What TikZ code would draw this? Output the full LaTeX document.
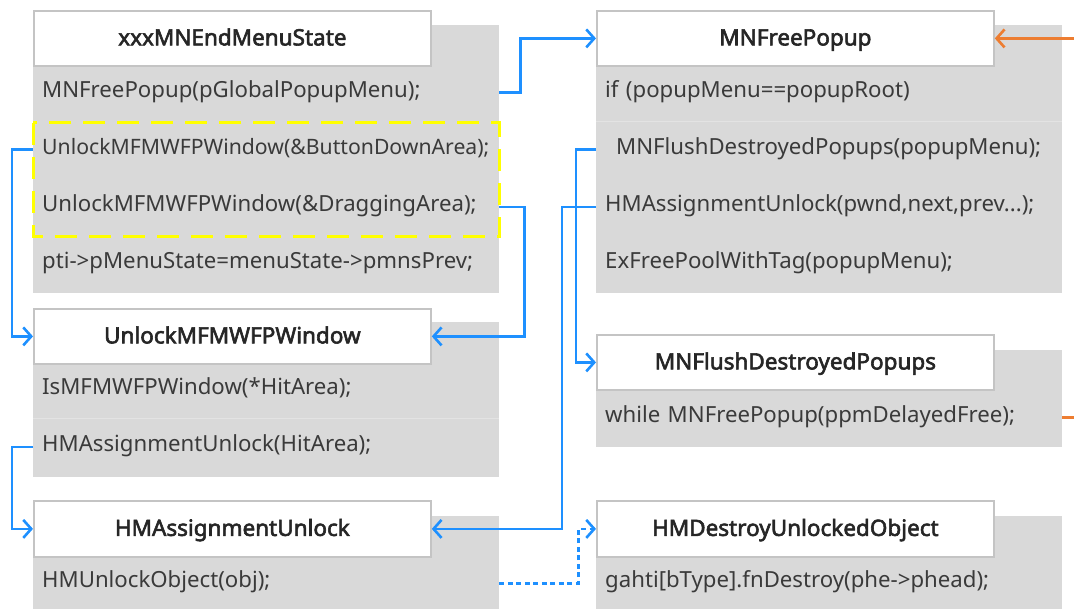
\documentclass[tikz,border=0pt]{standalone}
\usepackage{fontspec}
\setmainfont{Noto Sans}
\newfontfamily\headfont{Noto Sans}[FakeBold=2.6]
\usetikzlibrary{arrows.meta}
\definecolor{panelgray}{HTML}{D9D9D9}
\definecolor{rulegray}{HTML}{E3E3E3}
\definecolor{framegray}{HTML}{C4C4C4}
\definecolor{codetext}{HTML}{3A3A3A}
\definecolor{headtext}{HTML}{262626}
\definecolor{callblue}{HTML}{1E90FF}
\definecolor{backorange}{HTML}{ED7D31}
\definecolor{markyellow}{HTML}{FFFF00}
\tikzset{
  panel/.style={fill=panelgray, draw=none, anchor=north west, inner sep=0pt,
    minimum width=466pt},
  head/.style={draw=framegray, line width=1.8pt, fill=white, anchor=north west,
    inner sep=0pt, minimum width=397pt, minimum height=55pt,
    text height=14pt, text depth=0pt,
    font=\headfont\fontsize{22.5}{26}\selectfont, text=headtext},
  coderow/.style={anchor=north west, inner xsep=9pt, inner ysep=0pt,
    text width=448pt, align=left, minimum height=#1,
    text height=9pt, text depth=0pt,
    font=\fontsize{22.2}{26}\selectfont, text=codetext},
  coderow/.default=57pt,
  longrow/.style={coderow=#1, font=\fontsize{21.2}{26}\selectfont},
  longrow/.default=57pt,
  sep/.style={draw=rulegray, line width=1pt},
  call/.style={draw=callblue, line width=2.6pt,
    -{Straight Barb[length=8pt,width=18pt,line width=2.6pt]}},
  dotcall/.style={call, dash pattern=on 5pt off 3.5pt},
  backcall/.style={call, draw=backorange},
  hilite/.style={draw=markyellow, line width=3pt, dash pattern=on 22pt off 12pt},
}
\begin{document}
\begin{tikzpicture}[x=1pt, y=-1pt]
\useasboundingbox (0,0) rectangle (1074,609);
\clip (0,0) rectangle (1074,609);

% ---- xxxMNEndMenuState ----
\node[panel, minimum height=268pt] (pA) at (33,25) {};
\node[coderow] (a1) at (33,64) {MNFreePopup(pGlobalPopupMenu);};
\node[longrow] (a2) at (33,121) {UnlockMFMWFPWindow(\&ButtonDownArea);};
\node[coderow=58pt] (a3) at (33,178) {UnlockMFMWFPWindow(\&DraggingArea);};
\node[coderow=56pt] (a4) at (33,236) {pti->pMenuState=menuState->pmnsPrev;};
\node[head] (ms) at (33,10) {xxxMNEndMenuState};
\draw[hilite] (33,123) rectangle (499,237);

% ---- MNFreePopup ----
\node[panel, minimum height=268pt] (pB) at (596,25) {};
\draw[sep] (596,122) -- (1062,122);
\node[coderow] (f1) at (596,64) {if (popupMenu==popupRoot)};
\node[coderow] (f2) at (596,121) {\hspace{11pt}MNFlushDestroyedPopups(popupMenu);};
\node[coderow=58pt] (f3) at (596,178) {HMAssignmentUnlock(pwnd,next,prev...);};
\node[coderow=56pt] (f4) at (596,236) {ExFreePoolWithTag(popupMenu);};
\node[head] (fp) at (596,10) {MNFreePopup};

% ---- UnlockMFMWFPWindow ----
\node[panel, minimum height=155pt] (pC) at (33,322) {};
\draw[sep] (33,419) -- (499,419);
\node[coderow=56pt] (u1) at (33,362) {IsMFMWFPWindow(*HitArea);};
\node[coderow=58pt] (u2) at (33,418) {HMAssignmentUnlock(HitArea);};
\node[head] (uw) at (33,308) {UnlockMFMWFPWindow};

% ---- MNFlushDestroyedPopups ----
\node[panel, minimum height=97pt] (pD) at (596,350) {};
\node[coderow] (d1) at (596,389) {while MNFreePopup(ppmDelayedFree);};
\node[head] (fd) at (596,334) {MNFlushDestroyedPopups};

% ---- HMAssignmentUnlock ----
\node[panel, minimum height=110pt] (pE) at (33,516) {};
\node[coderow=56pt] (h1) at (33,555) {HMUnlockObject(obj);};
\node[head, minimum height=56pt] (hm) at (33,500) {HMAssignmentUnlock};

% ---- HMDestroyUnlockedObject ----
\node[panel, minimum height=110pt] (pF) at (596,516) {};
\node[coderow=56pt] (o1) at (596,555) {gahti[bType].fnDestroy(phe->phead);};
\node[head, minimum height=56pt] (hd) at (596,500) {HMDestroyUnlockedObject};

% ---- calls ----
\draw[call] (a1.east) -- ++(21,0) |- (fp.west);
\draw[call] (a2.west) -- ++(-21,0) |- (uw.west);
\draw[call] (a3.east) -- ++(25,0) |- (uw.east);
\draw[call] (u2.west) -- ++(-21,0) |- (hm.west);
\draw[call] (f2.west) -- ++(-20,0) |- (fd.west);
\draw[call] (f3.west) -- ++(-34,0) |- (hm.east);
\draw[dotcall] (h1.east) -- ++(79,0) |- (hd.west);
\draw[backcall] (d1.east) -- ++(40,0) |- (fp.east);
\end{tikzpicture}
\end{document}
